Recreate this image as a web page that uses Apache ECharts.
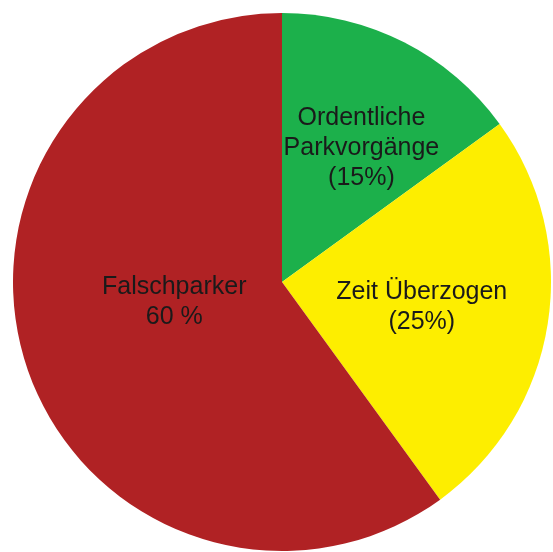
<!DOCTYPE html>
<html>
<head>
<meta charset="UTF-8">
<title></title>
<style>html,body{margin:0;padding:0;background:#fff;}#charts{width:553px;height:552px;}</style>
</head>
<body>
<div id="charts"></div>
<script src="https://cdn.jsdelivr.net/npm/echarts@6/dist/echarts.min.js"></script>
<script>
var names = ['Ordentliche\nParkvorgänge', 'Zeit Überzogen', 'Falschparker'];
var values = [15, 25, 60];
var labelTexts = ['Ordentliche\nParkvorgänge\n(15%)', 'Zeit Überzogen\n(25%)', 'Falschparker\n60 %'];
var colors = ['#1cb04b', '#fdee00', '#b02224'];
// label shifts from the default inside spot
var shifts = [[17, -11], [4, 4], [23, -22]];

var mycharts = echarts.init(document.getElementById('charts'));
var data = [];
for (var i = 0; i < values.length; i++) {
    data.push({
        name: names[i],
        value: values[i],
        itemStyle: {color: colors[i]},
        label: {formatter: labelTexts[i], offset: shifts[i]}
    });
}
mycharts.setOption({
    backgroundColor: '#fff',
    animation: false,
    series: [{
        type: 'pie',
        center: [282, 282],
        radius: 269,
        startAngle: 90,
        clockwise: true,
        data: data,
        itemStyle: {borderWidth: 0},
        label: {
            position: 'inside',
            color: '#1a1a1a',
            fontFamily: 'Liberation Sans, Arial, sans-serif',
            fontSize: 25,
            lineHeight: 30
        },
        labelLine: {show: false},
        emphasis: {disabled: true}
    }]
});
</script>
</body>
</html>
